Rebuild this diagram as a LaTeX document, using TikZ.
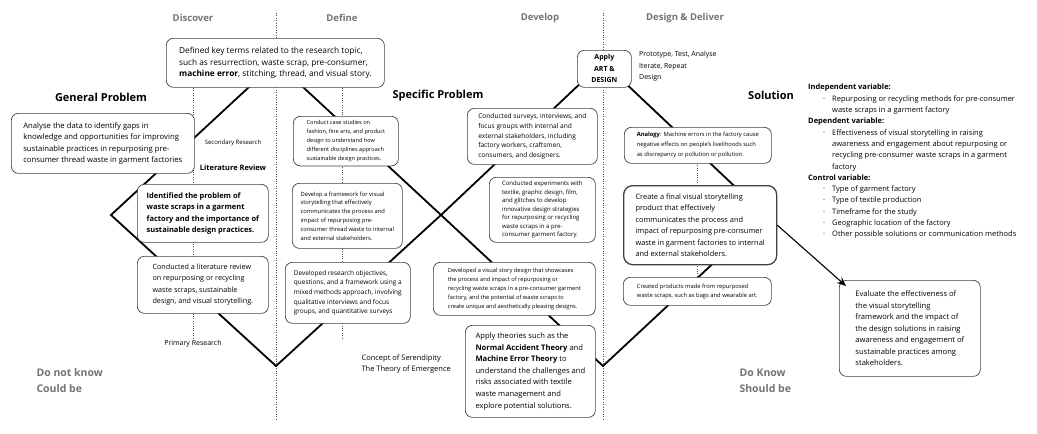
\documentclass[tikz,border=0pt]{standalone}
\usepackage{fontspec}
\setmainfont{Open Sans}
\usetikzlibrary{positioning,arrows.meta}

\newcommand{\fsz}[2]{\fontsize{#1}{#2}\selectfont}
\newcommand{\vitem}{\hspace*{15pt}\makebox[9pt][l]{·}}
\newcommand{\vcont}{\hspace*{24pt}}

\tikzset{
  box/.style={draw=black!75, fill=white, rounded corners=7pt, line width=0.7pt,
    anchor=north west, align=left, inner sep=4pt},
  bigbox/.style={box, line width=1.3pt, rounded corners=9pt},
  phaselabel/.style={text=black!55, font=\bfseries\fsz{9.5}{11}},
  partlabel/.style={font=\bfseries\fsz{11}{13}},
  knowlabel/.style={text=black!55, align=left, anchor=west, font=\bfseries\fsz{10.5}{16}},
  note/.style={font=\fsz{7}{11.5}, align=left},
  diamline/.style={line width=1.8pt, line join=miter},
  guide/.style={line width=0.8pt, dash pattern=on 0.7pt off 1.7pt, black!70},
}

\begin{document}
\begin{tikzpicture}[x=1pt,y=-1pt]
\useasboundingbox (0,0) rectangle (1037,434);

\coordinate (l1) at (111,215);
\coordinate (t1) at (276,62);
\coordinate (b1) at (276,366);
\coordinate (m) at (441,215);
\coordinate (t2) at (603,62);
\coordinate (b2) at (603,366);
\coordinate (r2) at (765,215);

\draw[guide] (276,13) -- (276,420);
\draw[guide] (603,13) -- (603,420);
\draw[guide] (193,88) -- (193,338);
\draw[guide] (342,88) -- (342,340);
\draw[guide] (697,163) -- (697,277);

\draw[diamline] (b1) -- (l1) -- (t1) -- (m) -- (b2) -- (r2) -- (t2) -- (m) -- cycle;

\node[phaselabel] (discover) at (193,18) {Discover};
\node[phaselabel] (define) at (342,18) {Define};
\node[phaselabel] (develop) at (540,18) {Develop};
\node[phaselabel] (deliver) at (685,18) {Design \& Deliver};

\node[partlabel] (general) at (101,97) {General Problem};
\node[partlabel] (specific) at (438,96) {Specific Problem};
\node[partlabel] (solution) at (771,95) {Solution};

\node[box, minimum width=218, minimum height=49, font=\fsz{8.3}{11.7}] (terms) at (166,38)
  {Defined key terms related to the research topic,\\
   such as resurrection, waste scrap, pre-consumer,\\
   \textbf{machine error}, stitching, thread, and visual story.};

\node[box, minimum width=183, minimum height=60, font=\fsz{7.7}{11.5}] (analyse) at (11,113)
  {Analyse the data to identify gaps in\\
   knowledge and opportunities for improving\\
   sustainable practices in repurposing pre-\\
   consumer thread waste in garment factories};

\node[font=\fsz{6}{7}] (secondary) at (233,143) {Secondary Research};
\node[font=\bfseries\fsz{7.5}{9}] (litlabel) at (233,168) {Literature Review};

\node[box, minimum width=131, minimum height=58, font=\bfseries\fsz{7.5}{11.5}] (problem) at (137,184)
  {Identified the problem of\\
   waste scraps in a garment\\
   factory and the importance of\\
   sustainable design practices.};

\node[box, minimum width=131, minimum height=57, font=\fsz{7.2}{11.5}] (litreview) at (137,256)
  {Conducted a literature review\\
   on repurposing or recycling\\
   waste scraps, sustainable\\
   design, and visual storytelling.};

\node[font=\fsz{7}{8}] (primary) at (193,344) {Primary Research};

\node[box, minimum width=105, minimum height=47, font=\fsz{5.6}{9}] (cases) at (293,116)
  {Conduct case studies on\\
   fashion, fine arts, and product\\
   design to understand how\\
   different disciplines approach\\
   sustainable design practices.};

\node[box, minimum width=110, minimum height=65, font=\fsz{5.8}{8.8}] (framework) at (292,183)
  {Develop a framework for visual\\
   storytelling that effectively\\
   communicates the process and\\
   impact of repurposing pre-\\
   consumer thread waste to internal\\
   and external stakeholders.};

\node[box, minimum width=125, minimum height=61, font=\fsz{6.5}{9.7}] (objectives) at (285,262)
  {Developed research objectives,\\
   questions, and a framework using a\\
   mixed methods approach, involving\\
   qualitative interviews and focus\\
   groups, and quantitative surveys};

\node[note, anchor=west, font=\fsz{7.5}{11.5}] (concepts) at (358,364)
  {Concept of Serendipity\\The Theory of Emergence};

\node[box, minimum width=54, minimum height=37, align=center, font=\bfseries\fsz{7}{11.5}] (apply) at (577,50)
  {Apply\\ ART \&\\ DESIGN};
\node[note, anchor=north west, inner sep=0pt] (iterate) at (639,51)
  {Prototype, Test, Analyse\\Iterate, Repeat\\Design};

\node[box, minimum width=130, minimum height=56, font=\fsz{6.6}{9.8}] (surveys) at (467,108)
  {Conducted surveys, interviews, and\\
   focus groups with internal and\\
   external stakeholders, including\\
   factory workers, craftsmen,\\
   consumers, and designers.};

\node[box, minimum width=106, minimum height=61, font=\fsz{6}{8.5}] (experiments) at (489,177)
  {Conducted experiments with\\
   textile, graphic design, film,\\
   and glitches to develop\\
   innovative design strategies\\
   for repurposing or recycling\\
   waste scraps in a pre-\\
   consumer garment factory.};

\node[box, minimum width=162, minimum height=53, font=\fsz{5.7}{9}] (storydesign) at (433,262)
  {Developed a visual story design that showcases\\
   the process and impact of repurposing or\\
   recycling waste scraps in a pre-consumer garment\\
   factory, and the potential of waste scraps to\\
   create unique and aesthetically pleasing designs.};

\node[box, minimum width=130, minimum height=92, font=\fsz{7.6}{11.6}] (theories) at (465,325)
  {Apply theories such as the\\
   \textbf{Normal Accident Theory} and\\
   \textbf{Machine Error Theory} to\\
   understand the challenges and\\
   risks associated with textile\\
   waste management and\\
   explore potential solutions.};

\node[box, minimum width=147, minimum height=36, font=\fsz{5.8}{10}] (analogy) at (624,127)
  {\textbf{Analogy}: Machine errors in the factory cause\\
   negative effects on people's livelihoods such\\
   as discrepancy or pollution or pollution.};

\node[bigbox, minimum width=153, minimum height=79, font=\fsz{7.4}{11.4}] (final) at (623,185)
  {Create a final visual storytelling\\
   product that effectively\\
   communicates the process and\\
   impact of repurposing pre-consumer\\
   waste in garment factories to internal\\
   and external stakeholders.};

\node[box, minimum width=148, minimum height=28, font=\fsz{5.8}{9}] (products) at (623,277)
  {Created products made from repurposed\\
   waste scraps, such as bags and wearable art.};

\node[box, minimum width=141, minimum height=96, font=\fsz{7.6}{11.5}] (evaluate) at (839,280)
  {Evaluate the effectiveness of\\
   the visual storytelling\\
   framework and the impact of\\
   the design solutions in raising\\
   awareness and engagement of\\
   sustainable practices among\\
   stakeholders.};

\node[note, anchor=north west, inner sep=0pt, font=\fsz{7.5}{11.3}] (variables) at (808,84)
  {\textbf{Independent variable:}\\
   \vitem Repurposing or recycling methods for pre-consumer\\
   \vcont waste scraps in a garment factory\\
   \textbf{Dependent variable:}\\
   \vitem Effectiveness of visual storytelling in raising\\
   \vcont awareness and engagement about repurposing or\\
   \vcont recycling pre-consumer waste scraps in a garment\\
   \vcont factory\\
   \textbf{Control variable:}\\
   \vitem Type of garment factory\\
   \vitem Type of textile production\\
   \vitem Timeframe for the study\\
   \vitem Geographic location of the factory\\
   \vitem Other possible solutions or communication methods};

\draw[-{Stealth[length=9pt,width=7.5pt]}, line width=1.1pt] (final.east) -- ([shift={(7,6)}]evaluate.north west);

\node[knowlabel] (notknow) at (33,381) {Do not know\\Could be};
\node[knowlabel] (doknow) at (736,381) {Do Know\\Should be};
\end{tikzpicture}
\end{document}
